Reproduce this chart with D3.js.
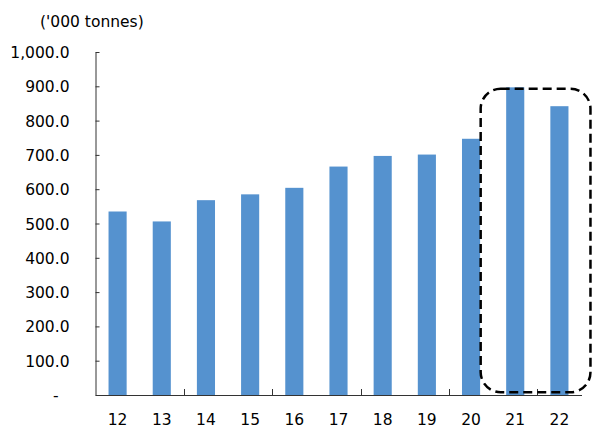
<!DOCTYPE html>
<html>
<head>
<meta charset="utf-8">
<script src="https://cdn.jsdelivr.net/npm/d3@7"></script>
<style>
  body { margin: 0; background: #fff; }
  text { font-family: "DejaVu Sans", Verdana, sans-serif; }
</style>
</head>
<body>
<div id="chart"></div>
<script>
// data
let years = ["12", "13", "14", "15", "16", "17", "18", "19", "20", "21", "22"];
let tonnes = [535, 506, 568, 585, 604, 666, 697, 701, 747, 897, 842];
let yTicks = [0, 100, 200, 300, 400, 500, 600, 700, 800, 900, 1000];
let highlighted = ["21", "22"];
let unitLabel = "('000 tonnes)";

let width = 593, height = 430;
let margin = {top: 52, right: 11.5, bottom: 35, left: 95.5};
let fontSize = 15.5;

let svg = d3.select("#chart").append("svg")
    .attr("width", width)
    .attr("height", height);

let x = d3.scaleBand()
    .domain(years)
    .range([margin.left, width - margin.right])
    .paddingInner(0.59)
    .paddingOuter(0.295);

let y = d3.scaleLinear()
    .domain([0, 1000])
    .range([height - margin.bottom, margin.top]);

let axisColor = "#333";

// bars
svg.append("g")
    .selectAll("rect")
    .data(years)
    .join("rect")
    .attr("x", function (d) { return x(d); })
    .attr("y", function (d, i) { return y(tonnes[i]); })
    .attr("width", x.bandwidth())
    .attr("height", function (d, i) { return y(0) - y(tonnes[i]); })
    .attr("fill", "#5592cf");

// y axis, ticks point inwards
let yAxis = svg.append("g")
    .attr("transform", "translate(" + margin.left + ",0)")
    .call(d3.axisLeft(y)
        .tickValues(yTicks)
        .tickSizeInner(-4)
        .tickSizeOuter(0)
        .tickPadding(26)
        .tickFormat(function (d) { return d === 0 ? "-" : d3.format(",.1f")(d); }));

yAxis.selectAll("text")
    .attr("font-size", fontSize)
    .attr("fill", "#000")
    .attr("dy", "0.36em")
    .filter(function (d) { return d === 0; })
    .attr("x", -37);
yAxis.selectAll("line, path").attr("stroke", axisColor);

// x axis labels
let xAxis = svg.append("g")
    .attr("transform", "translate(0," + y(0) + ")")
    .call(d3.axisBottom(x).tickSize(0).tickPadding(19));

xAxis.selectAll("text").attr("font-size", fontSize).attr("fill", "#000");
xAxis.select(".domain").attr("stroke", axisColor);

// tick marks between every second pair of categories
let step = x.step();
let gap = step - x.bandwidth();
let boundaries = years.filter(function (d, i) { return i % 2 === 0 && i > 0; });
svg.append("g")
    .selectAll("line")
    .data(boundaries)
    .join("line")
    .attr("x1", function (d) { return Math.round(x(d) - gap / 2) + 0.5; })
    .attr("x2", function (d) { return Math.round(x(d) - gap / 2) + 0.5; })
    .attr("y1", y(0))
    .attr("y2", y(0) - 6)
    .attr("stroke", axisColor);

// unit label
svg.append("text")
    .attr("x", 40)
    .attr("y", 27)
    .attr("font-size", fontSize)
    .attr("fill", "#000")
    .text(unitLabel);

// dashed rounded box around the last two years
let boxLeft = x(highlighted[0]) - 25.5;
let boxRight = x(highlighted[1]) + x.bandwidth() + 22;
svg.append("rect")
    .attr("x", boxLeft)
    .attr("y", y(893))
    .attr("width", boxRight - boxLeft)
    .attr("height", y(8) - y(893))
    .attr("rx", 20)
    .attr("ry", 20)
    .attr("fill", "none")
    .attr("stroke", "#000")
    .attr("stroke-width", 2.5)
    .attr("stroke-dasharray", "9,5");
</script>
</body>
</html>
